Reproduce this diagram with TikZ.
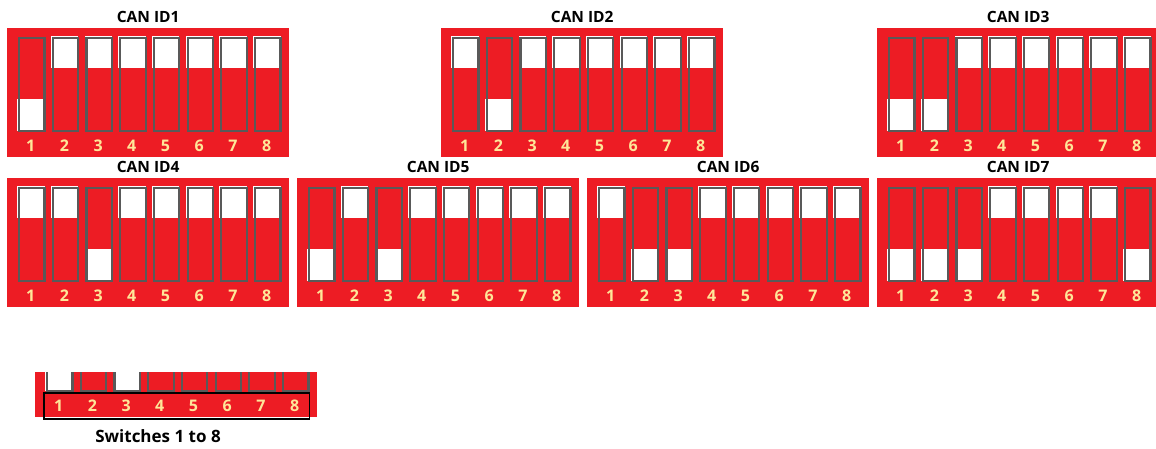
\documentclass[tikz,border=0pt]{standalone}
\usepackage{fontspec}
\setmainfont{Open Sans}
\usetikzlibrary{calc,fit,positioning}
\definecolor{dipred}{RGB}{237,28,36}
\definecolor{slotgray}{RGB}{89,89,89}
\definecolor{numyellow}{RGB}{255,230,153}

% #1 name, #2 top left corner, #3 switch states (1 = down)
\newcommand{\dipboard}[3]{%
  \node[board] (#1) at (#2) {};
  \foreach \s [count=\i] in {#3} {
    \node[knob] (#1k\i) at ($(#1.north west)+({10+(\i-1)*33.7},{8+63*\s})$) {};
    \node[slot] (#1s\i) at ($(#1.north west)+({11+(\i-1)*33.7},9)$) {};
    \node[num] (#1n\i) at ($(#1.north west)+({23.7+(\i-1)*33.7},118)$) {\i};
  }}

\begin{document}
\begin{tikzpicture}[x=1pt,y=-1pt,
  board/.style={fill=dipred,anchor=north west,inner sep=0pt,minimum width=282pt,minimum height=129pt},
  knob/.style={fill=white,anchor=north west,inner sep=0pt,minimum width=27.4pt,minimum height=32pt},
  slot/.style={draw=slotgray,line width=2.2pt,anchor=north west,inner sep=0pt,minimum width=25.4pt,minimum height=93pt},
  num/.style={text=numyellow,inner sep=0pt,font=\bfseries\fontsize{16}{16}\selectfont},
  boardtitle/.style={font=\bfseries\fontsize{15.5}{18}\selectfont}]
\useasboundingbox (0,0) rectangle (1156,449);
% first row
\dipboard{id1}{7,28}{1,0,0,0,0,0,0,0}
\dipboard{id2}{441,28}{0,1,0,0,0,0,0,0}
\dipboard{id3}{877,28}{1,1,0,0,0,0,0,0}
% second row
\dipboard{id4}{7,178}{0,0,1,0,0,0,0,0}
\dipboard{id5}{297,178}{1,0,1,0,0,0,0,0}
\dipboard{id6}{587,178}{0,1,1,0,0,0,0,0}
\dipboard{id7}{877,178}{1,1,1,0,0,0,0,1}
\foreach \b in {1,...,7}
  \node[boardtitle] (id\b t) at ($(id\b.north)+(0,-11)$) {CAN ID\b};
% legend
\begin{scope}
  \clip (0,372) rectangle (1156,449);
  \dipboard{sw}{35,288}{1,0,1,0,0,0,0,0}
\end{scope}
\node[fit=(swn1)(swn8),draw,line width=1.2pt,inner xsep=10pt,inner ysep=7pt] (swframe) {};
\node[font=\bfseries\fontsize{17}{20}\selectfont] (swcap) at (158,436) {Switches 1 to 8};
\end{tikzpicture}
\end{document}
